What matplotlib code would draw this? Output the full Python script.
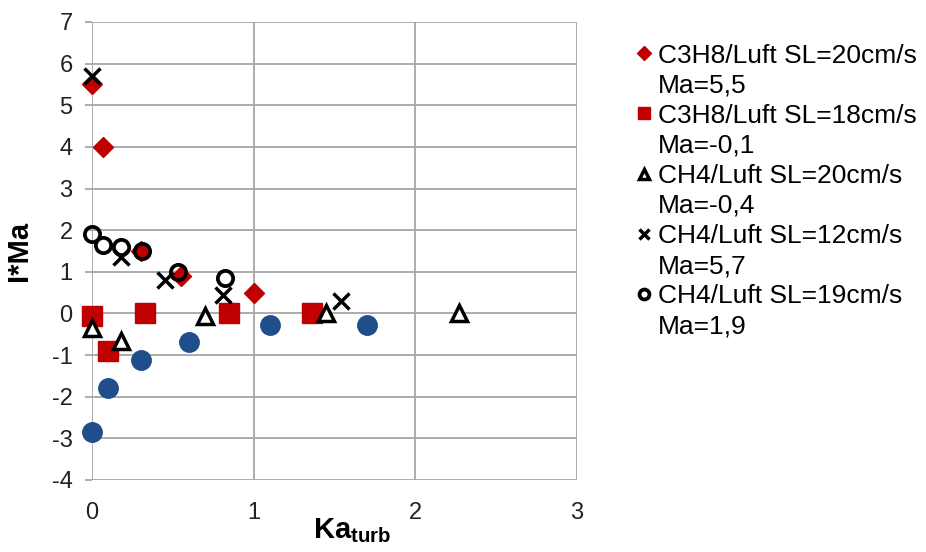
import matplotlib
matplotlib.use("Agg")
import matplotlib.pyplot as plt
from matplotlib.lines import Line2D

plt.rcParams["font.family"] = ["Liberation Sans", "DejaVu Sans"]
plt.rcParams["mathtext.fontset"] = "custom"
plt.rcParams["mathtext.rm"] = "Liberation Sans"
plt.rcParams["mathtext.bf"] = "Liberation Sans:bold"
plt.rcParams["axes.unicode_minus"] = False

# C3H8/Luft SL=20cm/s, Ma=5,5
c3h8_20_x = [0.0, 0.07, 0.3, 0.55, 1.0]
c3h8_20_y = [5.5, 4.0, 1.5, 0.9, 0.5]
# C3H8/Luft SL=18cm/s, Ma=-0,1
c3h8_18_x = [0.0, 0.1, 0.33, 0.85, 1.36]
c3h8_18_y = [-0.05, -0.9, 0.0, 0.0, 0.0]
# CH4/Luft SL=20cm/s, Ma=-0,4
ch4_20_x = [0.0, 0.18, 0.7, 1.45, 2.27]
ch4_20_y = [-0.35, -0.65, -0.05, 0.0, 0.0]
# CH4/Luft SL=12cm/s, Ma=5,7
ch4_12_x = [0.0, 0.18, 0.45, 0.81, 1.54]
ch4_12_y = [5.7, 1.35, 0.8, 0.45, 0.3]
# CH4/Luft SL=19cm/s, Ma=1,9
ch4_19_x = [0.0, 0.07, 0.18, 0.31, 0.53, 0.82]
ch4_19_y = [1.9, 1.65, 1.6, 1.5, 1.0, 0.85]
# unlabelled blue series
blue_x = [0.0, 0.1, 0.3, 0.6, 1.1, 1.7]
blue_y = [-2.85, -1.8, -1.12, -0.68, -0.28, -0.27]

labels = [
    ("C3H8/Luft SL=20cm/s", "Ma=5,5"),
    ("C3H8/Luft SL=18cm/s", "Ma=-0,1"),
    ("CH4/Luft SL=20cm/s", "Ma=-0,4"),
    ("CH4/Luft SL=12cm/s", "Ma=5,7"),
    ("CH4/Luft SL=19cm/s", "Ma=1,9"),
]

red = "#C00000"
blue = "#1F4E8A"

fig = plt.figure(figsize=(9.26, 5.52), dpi=100)
ax = fig.add_axes([92 / 926, 1 - 480 / 552, (577 - 92) / 926, (480 - 22) / 552])

ax.plot(blue_x, blue_y, ls="none", marker="o", ms=14, color=blue, mec=blue, clip_on=False)
h1, = ax.plot(c3h8_20_x, c3h8_20_y, ls="none", marker="D", ms=10.5, color=red, mec=red,
              clip_on=False)
h2, = ax.plot(c3h8_18_x, c3h8_18_y, ls="none", marker="s", ms=14, color=red, mec=red,
              clip_on=False)
h3, = ax.plot(ch4_20_x, ch4_20_y, ls="none", marker="^", ms=12, mfc="white",
              mec="black", mew=2.5, clip_on=False)
h4, = ax.plot(ch4_12_x, ch4_12_y, ls="none", marker="x", ms=11, color="black", mew=2.5,
              clip_on=False)
h5, = ax.plot(ch4_19_x, ch4_19_y, ls="none", marker="o", ms=11, mfc="none",
              mec="black", mew=2.7, clip_on=False)

ax.set_xlim(0, 3)
ax.set_ylim(-4, 7)
ax.set_xticks([0, 1, 2, 3])
ax.set_yticks(range(-4, 8))
ax.grid(True, color="#A6A6A6", lw=1.3)
for s in ax.spines.values():
    s.set_visible(False)
ax.tick_params(axis="y", length=5, width=1.3, color="#A6A6A6", labelsize=17,
               labelcolor="#222222", pad=9)
ax.tick_params(axis="x", length=0, labelsize=17, labelcolor="#222222", pad=16)
ax.set_axisbelow(True)

ax.set_ylabel("I*Ma", fontsize=21, fontweight="bold")
ax.yaxis.set_label_coords(-0.122, 0.5)
ax.set_xlabel(r"$\mathbf{Ka}_{\mathbf{turb}}$", fontsize=21)
ax.xaxis.set_label_coords(0.536, -0.08)

blank = Line2D([], [], ls="none", marker="none")
handles = []
texts = []
for h, (l1, l2) in zip([h1, h2, h3, h4, h5], labels):
    handles += [h, blank]
    texts += [l1, l2]

fig.legend(handles, texts, loc="upper left", bbox_to_anchor=(626 / 926, 1 - 33 / 552),
           frameon=False, fontsize=19, handlelength=0.55, handletextpad=0.25,
           labelspacing=0.23, markerscale=0.65, borderaxespad=0)

fig.savefig("out.png", dpi=100)
